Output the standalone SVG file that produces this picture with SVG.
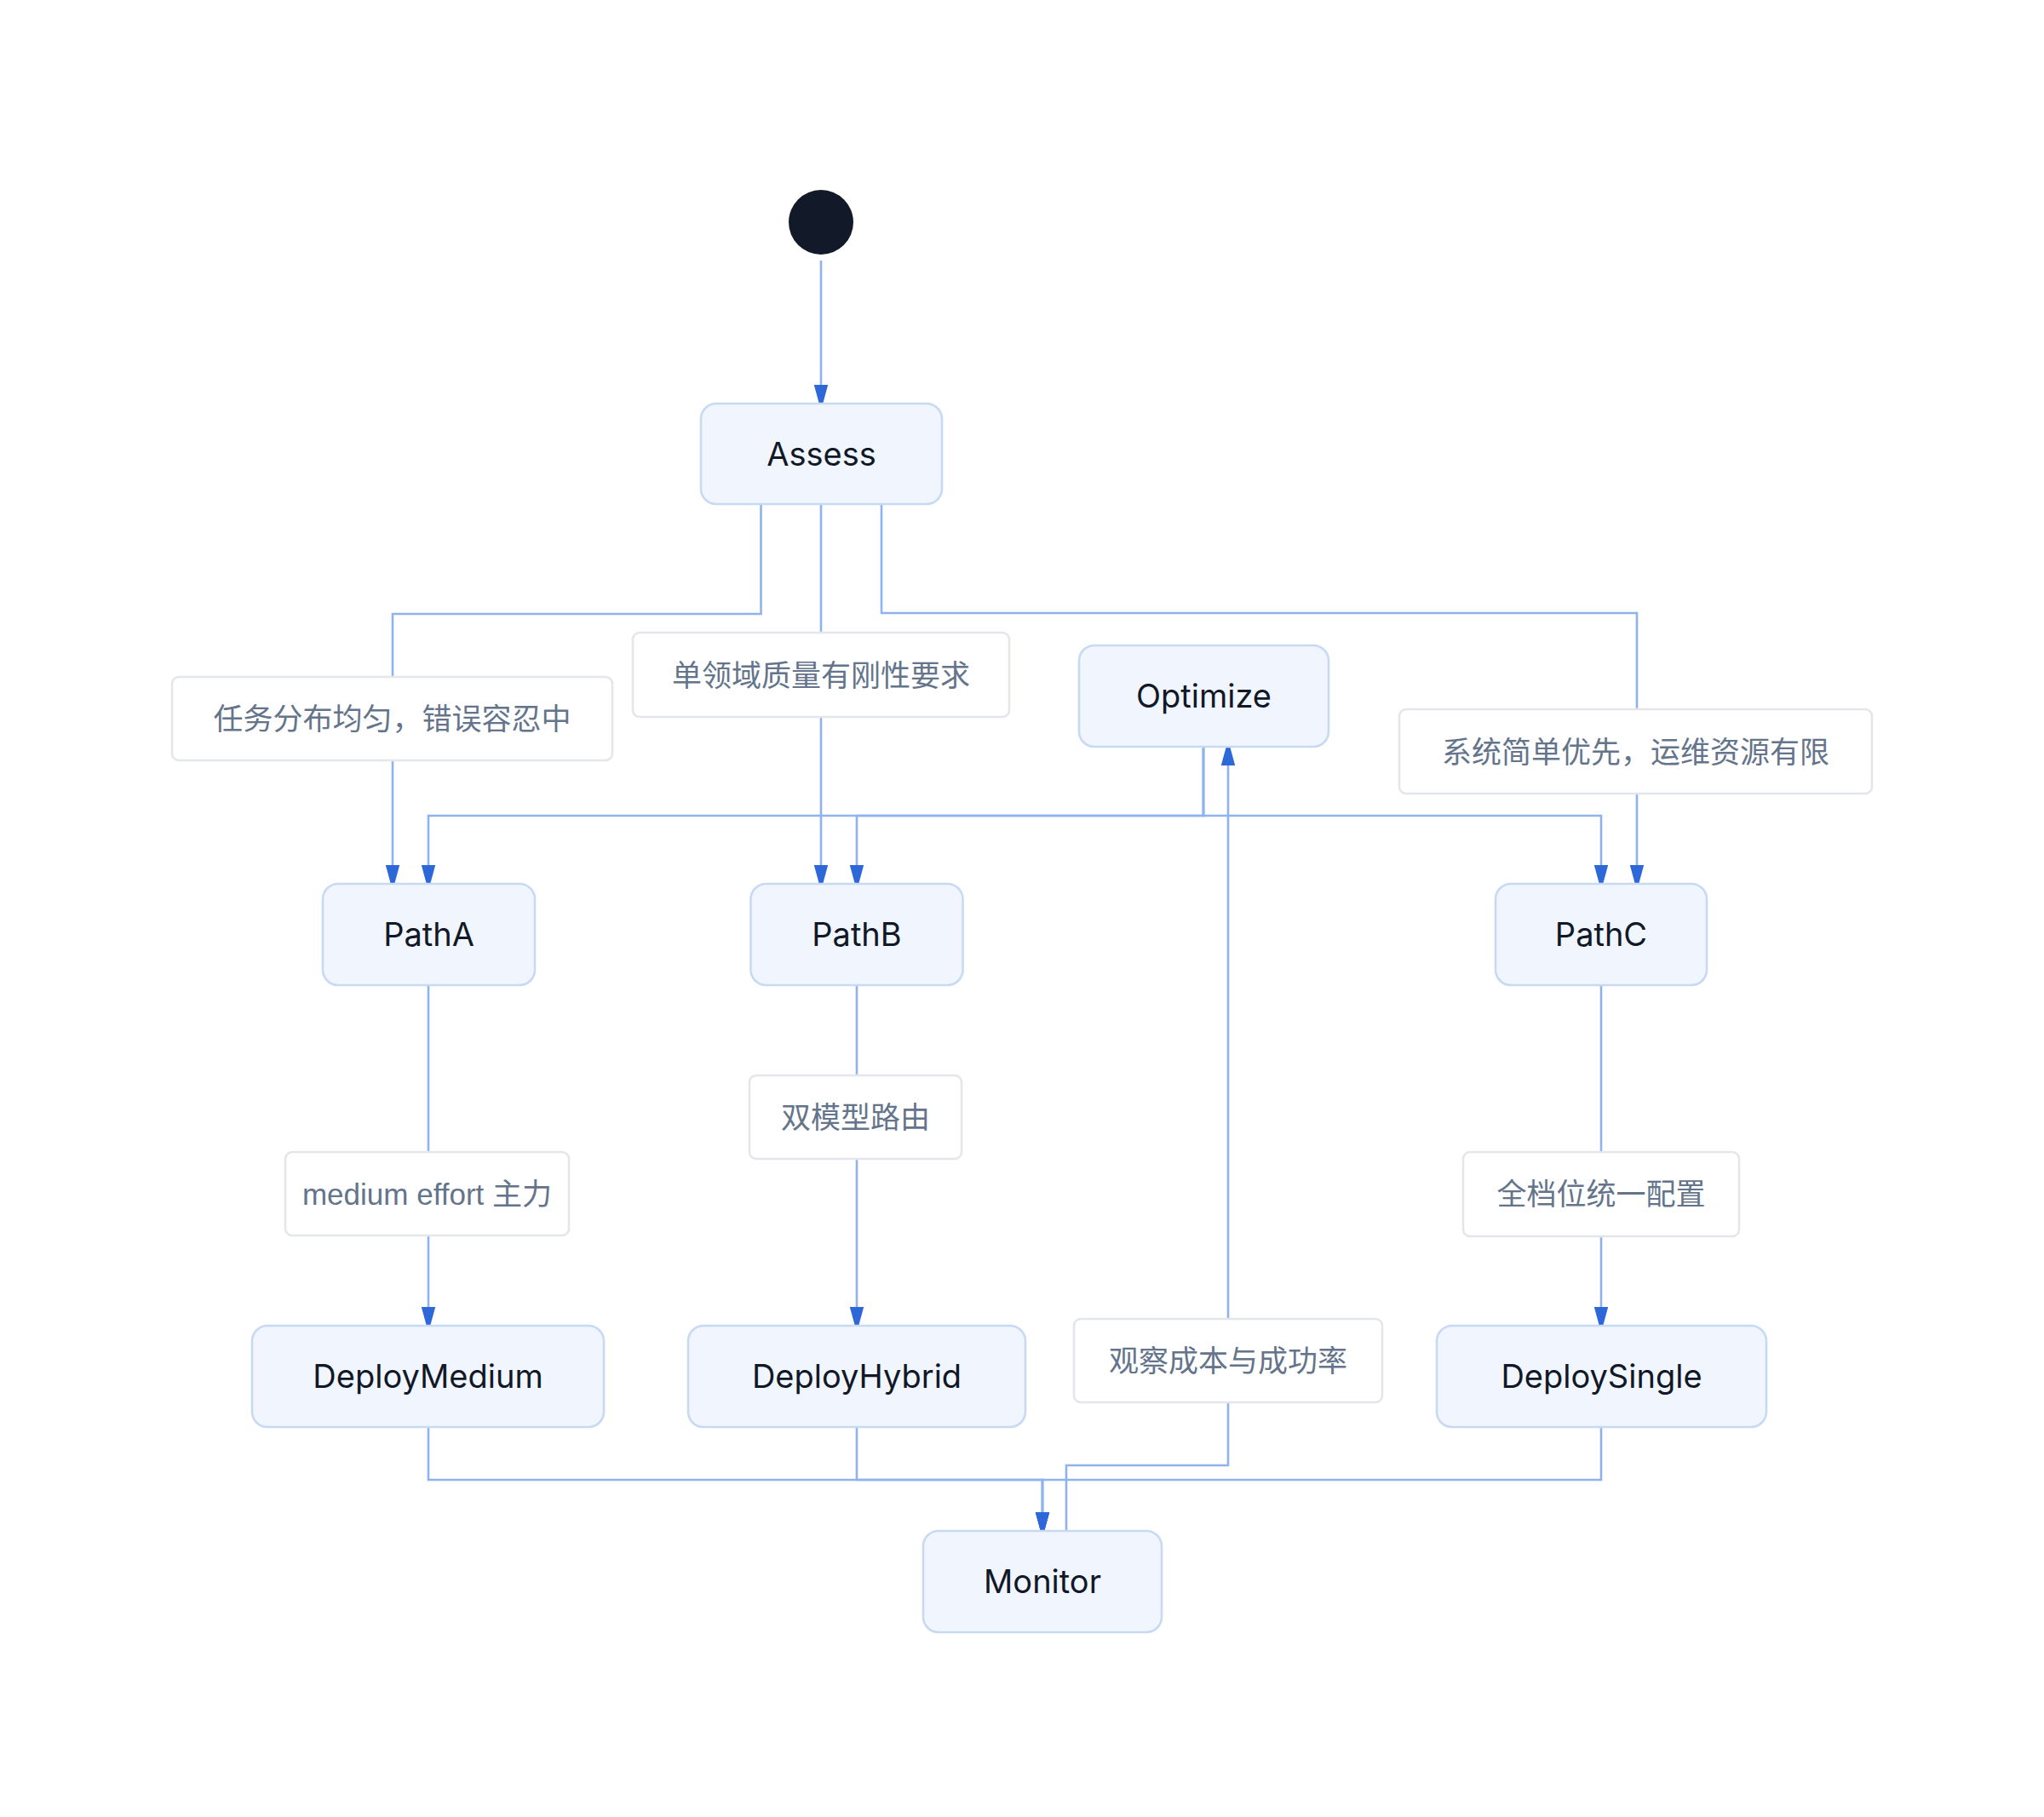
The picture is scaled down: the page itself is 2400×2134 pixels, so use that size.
<svg xmlns="http://www.w3.org/2000/svg" width="2400" height="2134" viewBox="0 0 2400 2134">
<style>
.edge{fill:none;stroke:#8fb3ef;stroke-width:2.6}
.node rect{fill:#f1f6fe;stroke:#c8d9f4;stroke-width:2.6}
.node text{font-family:Inter,"Liberation Sans","Noto Sans CJK SC",sans-serif;font-size:38px;fill:#111827;text-anchor:middle}
.lbl rect{fill:#ffffff;stroke:#e4e6ea;stroke-width:2.6}
.lbl text{font-family:"Liberation Sans","Noto Sans CJK SC",sans-serif;font-size:35px;fill:#64748b;text-anchor:middle}
</style>
<defs>
<marker id="arr" markerUnits="userSpaceOnUse" markerWidth="24" markerHeight="18" viewBox="0 0 24 18" refX="22.5" refY="9" orient="auto">
<path d="M0.5,0.8 L22.5,6.8 L22.5,11.2 L0.5,17.2 Z" fill="#2e67d8"/>
</marker>
</defs>
<rect width="2400" height="2134" fill="#ffffff"/>
<g id="connectors">
<path class="edge" d="M964,306 V474" marker-end="url(#arr)"/>
<path class="edge" d="M893.5,593 V721 H461 V1038" marker-end="url(#arr)"/>
<path class="edge" d="M964,593 V1038" marker-end="url(#arr)"/>
<path class="edge" d="M1035,593 V720 H1922 V1038" marker-end="url(#arr)"/>
<path class="edge" d="M1413,877 V958 H503 V1038" marker-end="url(#arr)"/>
<path class="edge" d="M1413,877 V958 H1006 V1038" marker-end="url(#arr)"/>
<path class="edge" d="M1413,877 V958 H1880 V1038" marker-end="url(#arr)"/>
<path class="edge" d="M503,1157 V1557" marker-end="url(#arr)"/>
<path class="edge" d="M1006,1157 V1557" marker-end="url(#arr)"/>
<path class="edge" d="M1880,1157 V1557" marker-end="url(#arr)"/>
<path class="edge" d="M503,1676 V1738 H1224 V1798" marker-end="url(#arr)"/>
<path class="edge" d="M1006,1676 V1738 H1224 V1798" marker-end="url(#arr)"/>
<path class="edge" d="M1880,1676 V1738 H1224 V1798" marker-end="url(#arr)"/>
<path class="edge" d="M1252,1798 V1721 H1442 V877" marker-end="url(#arr)"/>
</g>
<g id="edge-labels">
<g class="lbl" id="label-assess-patha"><rect x="202" y="795" width="517" height="98" rx="8"/><text x="460.5" y="857">任务分布均匀，错误容忍中</text></g>
<g class="lbl" id="label-assess-pathb"><rect x="743" y="743" width="442" height="99" rx="8"/><text x="964" y="806">单领域质量有刚性要求</text></g>
<g class="lbl" id="label-assess-pathc"><rect x="1643" y="833" width="555" height="99" rx="8"/><text x="1920.5" y="896">系统简单优先，运维资源有限</text></g>
<g class="lbl" id="label-patha-deploy"><rect x="335" y="1353" width="333" height="98" rx="8"/><text x="501.5" y="1415">medium effort 主力</text></g>
<g class="lbl" id="label-pathb-deploy"><rect x="880" y="1263" width="249" height="98" rx="8"/><text x="1004.5" y="1325">双模型路由</text></g>
<g class="lbl" id="label-pathc-deploy"><rect x="1718" y="1353" width="324" height="99" rx="8"/><text x="1880" y="1415">全档位统一配置</text></g>
<g class="lbl" id="label-monitor-optimize"><rect x="1261" y="1549" width="362" height="98" rx="8"/><text x="1442" y="1611">观察成本与成功率</text></g>
</g>
<g id="start"><circle cx="964" cy="261" r="38" fill="#121a2a"/></g>
<g class="node" id="Assess"><rect x="823" y="474" width="283" height="118" rx="18"/><text x="964.5" y="547">Assess</text></g>
<g class="node" id="Optimize"><rect x="1267" y="758" width="293" height="119" rx="18"/><text x="1413.5" y="831">Optimize</text></g>
<g class="node" id="PathA"><rect x="379" y="1038" width="249" height="119" rx="18"/><text x="503.5" y="1111">PathA</text></g>
<g class="node" id="PathB"><rect x="881.5" y="1038" width="249" height="119" rx="18"/><text x="1006" y="1111">PathB</text></g>
<g class="node" id="PathC"><rect x="1756" y="1038" width="248" height="119" rx="18"/><text x="1880" y="1111">PathC</text></g>
<g class="node" id="DeployMedium"><rect x="296" y="1557" width="413" height="119" rx="18"/><text x="502.5" y="1630">DeployMedium</text></g>
<g class="node" id="DeployHybrid"><rect x="808" y="1557" width="396" height="119" rx="18"/><text x="1006" y="1630">DeployHybrid</text></g>
<g class="node" id="DeploySingle"><rect x="1687" y="1557" width="387" height="119" rx="18"/><text x="1880.5" y="1630">DeploySingle</text></g>
<g class="node" id="Monitor"><rect x="1084" y="1798" width="280" height="119" rx="18"/><text x="1224" y="1871">Monitor</text></g>
</svg>
